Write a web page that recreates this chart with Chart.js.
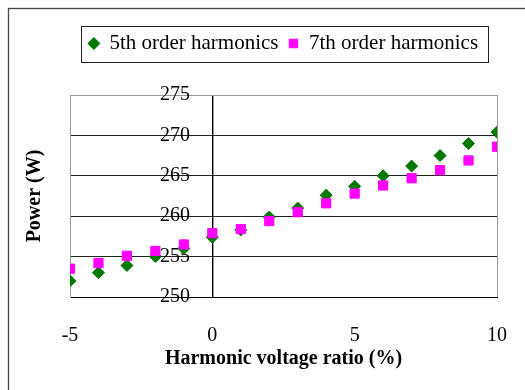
<!DOCTYPE html>
<html>
<head>
<meta charset="utf-8">
<script src="https://cdn.jsdelivr.net/npm/chart.js@4/dist/chart.umd.min.js"></script>
<style>
    html, body { margin: 0; padding: 0; background: #fff; }
    #wrap { width: 525px; height: 390px; }
</style>
</head>
<body>
<div id="wrap"><canvas id="powerChart"></canvas></div>
<script>
// harmonic voltage ratio (%) on x, power (W) on y
const ratios = [-5, -4, -3, -2, -1, 0, 1, 2, 3, 4, 5, 6, 7, 8, 9, 10];
const fifthPower = [252.0, 253.0, 253.9, 255.0, 256.0, 257.4, 258.3, 259.9, 261.0, 262.6, 263.7, 265.0, 266.2, 267.5, 269.0, 270.4];
const seventhPower = [253.5, 254.2, 255.1, 255.7, 256.5, 257.9, 258.4, 259.4, 260.5, 261.6, 262.8, 263.8, 264.7, 265.7, 266.9, 268.6];
const seriesNames = ["5th order harmonics", "7th order harmonics"];
const xTicks = [-5, 0, 5, 10];
const yTicks = [250, 255, 260, 265, 270, 275];

const SERIF = "'Liberation Serif', 'DejaVu Serif', serif";

function toPoints(ys) {
    return ratios.map((x, i) => ({ x: x, y: ys[i] }));
}

// outer frame + box round the legend
const framePlugin = {
    id: "frame",
    beforeDraw(chart) {
        const ctx = chart.ctx;
        ctx.save();
        ctx.fillStyle = "#fff";
        ctx.fillRect(0, 0, chart.width, chart.height);
        ctx.strokeStyle = "#444";
        ctx.lineWidth = 1.3;
        ctx.strokeRect(8.5, 8.5, 540, 400);
        ctx.restore();
    },
    afterDraw(chart) {
        const hb = chart.legend && chart.legend.legendHitBoxes;
        if (!hb || !hb.length) return;
        const first = hb[0], last = hb[hb.length - 1];
        const left = first.left - 8;
        const right = last.left + last.width + 10;
        const mid = first.top + first.height / 2;
        const ctx = chart.ctx;
        ctx.save();
        ctx.strokeStyle = "#222";
        ctx.lineWidth = 1;
        ctx.strokeRect(Math.round(left) + 0.5, Math.round(mid - 18) + 0.5, Math.round(right - left), 36);
        ctx.restore();
    }
};

new Chart(document.getElementById("powerChart"), {
    type: "scatter",
    data: {
        datasets: [{
            label: seriesNames[0],
            data: toPoints(fifthPower),
            pointStyle: "rectRot",
            pointRadius: 6,
            backgroundColor: "#007800",
            borderColor: "#007800",
            borderWidth: 1,
            order: 2
        }, {
            label: seriesNames[1],
            data: toPoints(seventhPower),
            pointStyle: "rect",
            pointRadius: 6.5,
            backgroundColor: "#ff00ff",
            borderColor: "#ff00ff",
            borderWidth: 1,
            order: 1
        }]
    },
    options: {
        responsive: true,
        maintainAspectRatio: false,
        animation: false,
        layout: { padding: { left: 0, right: 28, top: 23, bottom: 9 } },
        plugins: {
            tooltip: { enabled: false },
            legend: {
                position: "top",
                fullSize: false,
                labels: {
                    usePointStyle: true,
                    boxWidth: 10,
                    boxHeight: 8.5,
                    padding: 10,
                    color: "#000",
                    font: { family: SERIF, size: 21 },
                    sort: (a, b) => a.datasetIndex - b.datasetIndex
                }
            }
        },
        scales: {
            x: {
                type: "linear",
                position: "bottom",
                min: xTicks[0],
                max: xTicks[xTicks.length - 1],
                afterBuildTicks: s => { s.ticks = xTicks.map(v => ({ value: v })); },
                afterFit: s => { s.height = 84; },
                ticks: { color: "#000", padding: 0, font: { family: SERIF, size: 20 } },
                grid: {
                    drawTicks: true,
                    tickLength: 27,
                    tickColor: "rgba(0,0,0,0)",
                    color: c => c.tick.value === 10 ? "#999" : (c.tick.value === 0 ? "#000" : "rgba(0,0,0,0)"),
                    lineWidth: c => c.tick.value === 0 ? 1.4 : 1
                },
                border: { color: "#000", width: 1 },
                title: {
                    display: true,
                    text: "Harmonic voltage ratio (%)",
                    color: "#000",
                    font: { family: SERIF, size: 20, weight: "bold" },
                    padding: { top: 0, bottom: 10 }
                }
            },
            xTop: {
                type: "linear",
                position: "top",
                min: -5,
                max: 10,
                ticks: { display: false },
                grid: { display: false },
                border: { display: false },
                afterFit: s => { s.height = 31; }
            },
            y: {
                type: "linear",
                position: "left",
                min: yTicks[0],
                max: yTicks[yTicks.length - 1],
                afterBuildTicks: s => { s.ticks = yTicks.map(v => ({ value: v })); },
                afterFit: s => { s.width = 70; s.paddingTop = 0; s.paddingBottom = 0; },
                ticks: { color: "#000", mirror: true, padding: 90, font: { family: SERIF, size: 20 } },
                grid: {
                    drawTicks: false,
                    color: c => c.tick.value === 275 ? "#999" : (c.tick.value === 250 ? "rgba(0,0,0,0)" : "#222")
                },
                border: { color: "#999", width: 1 },
                title: {
                    display: true,
                    text: "Power (W)",
                    color: "#000",
                    font: { family: SERIF, size: 20, weight: "bold" },
                    padding: { top: 23, bottom: 0 }
                }
            }
        }
    },
    plugins: [framePlugin]
});
</script>
</body>
</html>
